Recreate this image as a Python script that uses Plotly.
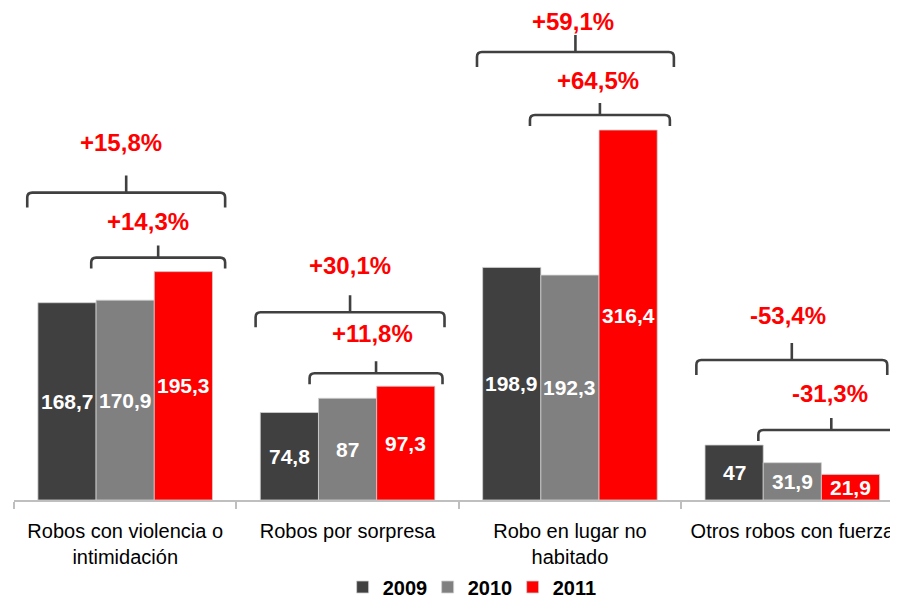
import plotly.graph_objects as go

# ---------------- data ----------------
categories = ["Robos con violencia o<br>intimidación", "Robos por sorpresa",
              "Robo en lugar no<br>habitado", "Otros robos con fuerza"]
years = ["2009", "2010", "2011"]
v2009 = [168.7, 74.8, 198.9, 47.0]
v2010 = [170.9, 87.0, 192.3, 31.9]
v2011 = [195.3, 97.3, 316.4, 21.9]
change_09_11 = ["+15,8%", "+30,1%", "+59,1%", "-53,4%"]
change_10_11 = ["+14,3%", "+11,8%", "+64,5%", "-31,3%"]

# ---------------- style / layout ----------------
colors = ["#404040", "#808080", "#ff0000"]
OFF = 8                            # page body offset of the figure
W, H = 898 - OFF, 599 - OFF
ML = 13.5 - OFF
PLOT_H = 500 - OFF
MB = H - PLOT_H
CAT_W = 222.5                      # px per category
XMAX = -0.5 + (W - ML) / CAT_W
K = 370.0 / max(v2011)             # px per data unit
YMAX = PLOT_H / K
PX_Y = 1.0 / K                     # data units per px (y)
PX_X = 1.0 / CAT_W                 # data units per px (x)
BARGAP = 0.215
BAR_W = (1 - BARGAP) / 3

# bracket geometry (px offsets, per category)
outer_line = [79, 74, 78, 85]
inner_line = [14, 13, 15, 15]
outer_lab = [129, 121, 109, 130]
inner_lab = [50, 53, 50, 52]
outer_span = [(-98, 100), (-92, 97), (-93, 104), (-96, 95)]
inner_span = [(-34, 100), (-38, 95), (-40, 100), (-34, 112)]
outer_lab_dx = [-4, 2, 3, -4]
inner_lab_dx = [23, 25, 28, 38]

def fmt(v):
    s = f"{v:.1f}".replace(".", ",")
    return s[:-2] if s.endswith(",0") else s

fig = go.Figure()
series = [v2009, v2010, v2011]
for name, vals, col in zip(years, series, colors):
    fig.add_trace(go.Bar(
        name=name, x=list(range(len(categories))), y=vals,
        marker=dict(color=col, line=dict(color="#d0d0d0", width=0.8)),
        hoverinfo="skip"))

annotations = []
shapes = []
for j, vals in enumerate(series):
    for i, v in enumerate(vals):
        annotations.append(dict(
            x=i + (j - 1) * BAR_W, y=v / 2, xref="x", yref="y",
            text=f"<b>{fmt(v)}</b>", showarrow=False,
            font=dict(family="Liberation Sans", size=21, color="white")))

def bracket(xl, xr, yh, drop, tick):
    rx, ry = 5 * PX_X, 5 * PX_Y
    xc = (xl + xr) / 2
    yb = yh - drop * PX_Y
    yt = yh + tick * PX_Y
    path = (f"M{xl},{yb} L{xl},{yh - ry} Q{xl},{yh} {xl + rx},{yh} "
            f"L{xr - rx},{yh} Q{xr},{yh} {xr},{yh - ry} L{xr},{yb} "
            f"M{xc},{yh} L{xc},{yt}")
    return dict(type="path", path=path, xref="x", yref="y",
                line=dict(color="#404040", width=2.6))

for i in range(len(categories)):
    m = max(v2009[i], v2010[i], v2011[i])
    yo = m + outer_line[i] * PX_Y
    yi = m + inner_line[i] * PX_Y
    shapes.append(bracket(i + outer_span[i][0] * PX_X, i + outer_span[i][1] * PX_X, yo, 15, 17))
    shapes.append(bracket(i + inner_span[i][0] * PX_X, i + inner_span[i][1] * PX_X, yi, 11, 12))
    annotations.append(dict(
        x=i + outer_lab_dx[i] * PX_X, y=m + outer_lab[i] * PX_Y, xref="x", yref="y",
        text=f"<b>{change_09_11[i]}</b>", showarrow=False,
        font=dict(family="Liberation Sans", size=24, color="#ff0000")))
    annotations.append(dict(
        x=i + inner_lab_dx[i] * PX_X, y=m + inner_lab[i] * PX_Y, xref="x", yref="y",
        text=f"<b>{change_10_11[i]}</b>", showarrow=False,
        font=dict(family="Liberation Sans", size=24, color="#ff0000")))

fig.update_layout(
    width=W, height=H,
    margin=dict(l=ML, r=0, t=0, b=MB, autoexpand=False),
    paper_bgcolor="white", plot_bgcolor="white",
    barmode="group", bargap=BARGAP, bargroupgap=0,
    showlegend=True,
    legend=dict(orientation="h", x=0.516, xanchor="center",
                y=-(579 - PLOT_H) / PLOT_H, yanchor="middle",
                font=dict(family="Liberation Sans", size=20, color="black", weight="bold"),
                itemwidth=30, entrywidth=40, entrywidthmode="pixels",
                traceorder="normal", tracegroupgap=0),
    annotations=annotations, shapes=shapes,
    xaxis=dict(range=[-0.5, XMAX], tickmode="array", tickvals=list(range(len(categories))),
               ticktext=categories, ticks="", showgrid=False, zeroline=False,
               automargin=False, ticklabelstandoff=12,
               showline=True, linecolor="#bfbfbf", linewidth=1.5,
               tickfont=dict(family="Liberation Sans", size=20, color="black"),
               minor=dict(ticks="outside", ticklen=7, tickcolor="#bfbfbf", tickwidth=1.5,
                          tickmode="array", tickvals=[-0.5, 0.5, 1.5, 2.5, 3.5], showgrid=False)),
    yaxis=dict(range=[0, YMAX], visible=False, showgrid=False, zeroline=False, automargin=False),
)

fig.write_html("out.html")
